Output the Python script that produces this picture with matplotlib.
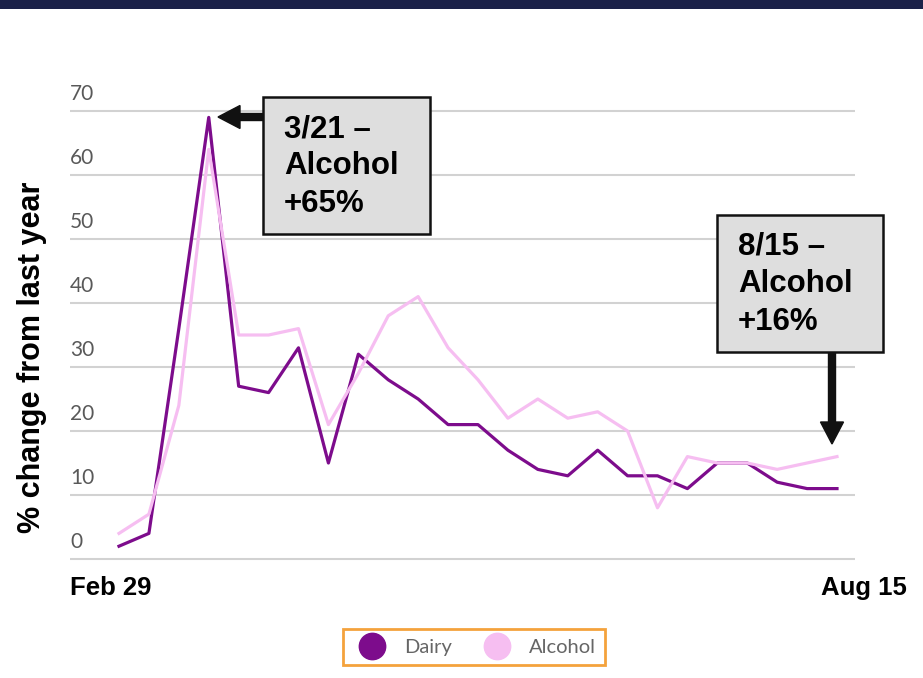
import matplotlib.pyplot as plt
from matplotlib.patches import Rectangle, FancyArrow
from matplotlib.lines import Line2D
from matplotlib.transforms import IdentityTransform

# Weekly data, Feb 29 -> Aug 15 (25 weeks)
weeks = list(range(25))
dairy = [2, 4, 36, 69, 27, 26, 33, 15, 32, 28, 25, 21, 21, 17, 14, 13, 17, 13, 13, 11, 15, 15, 12, 11, 11]
alcohol = [4, 7, 24, 64, 35, 35, 36, 21, 29, 38, 41, 33, 28, 22, 25, 22, 23, 20, 8, 16, 15, 15, 14, 15, 16]
y_ticks = [0, 10, 20, 30, 40, 50, 60, 70]
x_labels = ['Feb 29', 'Aug 15']
series_names = ['Dairy', 'Alcohol']
callouts = ['3/21 –\nAlcohol\n+65%', '8/15 –\nAlcohol\n+16%']

W, H = 923, 678
COR_DAIRY = '#7D0C8C'
COR_ALCOOL = '#F6BEF1'


def fx(x):
    return x / W


def fy(y):
    return 1 - y / H


fig = plt.figure(figsize=(W / 100, H / 100), dpi=100)
fig.patch.set_facecolor('white')

# Faixa azul escura no topo
fig.add_artist(Rectangle((0, fy(9)), 1, 9 / H, transform=fig.transFigure,
                         facecolor='#1B2148', edgecolor='none'))

# Eixo principal (0 -> y=559px, 70 -> y=111px)
ppu = (559 - 111) / 70.0
ax = fig.add_axes([fx(70), fy(559 + ppu), (855 - 70) / W, (559 - 111 + 2 * ppu) / H])
ax.set_xlim(-(119 - 70) / 29.92, 24 + (855 - 837) / 29.92)
ax.set_ylim(-1, 71)

ax.plot(weeks, dairy, color=COR_DAIRY, lw=2.3, zorder=3, clip_on=False)
ax.plot(weeks, alcohol, color=COR_ALCOOL, lw=2.3, zorder=4, clip_on=False)

ax.set_yticks(y_ticks)
ax.grid(axis='y', color='#D2D2D2', lw=1.5)
ax.set_axisbelow(True)
ax.tick_params(length=0, labelleft=False, labelbottom=False)
ax.set_xticks([])
for s in ax.spines.values():
    s.set_visible(False)

# Rótulos do eixo y acima das linhas de grade
for v in y_ticks:
    ax.annotate(str(v), xy=(0, v), xycoords=('axes fraction', 'data'),
                xytext=(0, 5), textcoords='offset points', ha='left', va='bottom',
                fontsize=15, color='#595959', family='Lato')

fig.text(fx(70), fy(588), x_labels[0], ha='left', va='center', fontsize=18.5,
         fontweight='bold', family='Liberation Sans')
fig.text(fx(907), fy(588), x_labels[1], ha='right', va='center', fontsize=18.5,
         fontweight='bold', family='Liberation Sans')
fig.text(fx(32), fy(357), '% change from last year', rotation=90, ha='center', va='center',
         fontsize=22, fontweight='bold', family='Liberation Sans')

# Caixas de destaque e setas (em pixels)
ident = IdentityTransform()


def caixa(x0, y0, x1, y1, texto):
    fig.add_artist(Rectangle((x0, H - y1), x1 - x0, y1 - y0, transform=ident,
                             facecolor='#DEDEDE', edgecolor='#111111', lw=1.8, zorder=5))
    fig.text(fx(x0 + 21), fy(y0 + 17), texto, ha='left', va='top', fontsize=22.5,
             fontweight='bold', family='Liberation Sans', linespacing=1.32, zorder=6)


caixa(263, 97, 430, 234, callouts[0])
caixa(717, 215, 883, 352, callouts[1])

fig.add_artist(FancyArrow(263, H - 117, -45, 0, width=7, head_width=23, head_length=22,
                          length_includes_head=True, color='#111111', transform=ident))
fig.add_artist(FancyArrow(832, H - 352, 0, -92, width=7, head_width=23, head_length=22,
                          length_includes_head=True, color='#111111', transform=ident))

# Legenda
handles = [Line2D([], [], marker='o', ls='none', ms=19, mfc=COR_DAIRY, mec=COR_DAIRY),
           Line2D([], [], marker='o', ls='none', ms=19, mfc=COR_ALCOOL, mec=COR_ALCOOL)]
leg = fig.legend(handles, series_names, loc='center', bbox_to_anchor=(fx(474), fy(647)),
                 ncol=2, frameon=True, fancybox=False, edgecolor='#F4A23C', framealpha=1,
                 prop=dict(family='Lato', size=14.5), labelcolor='#666666',
                 handletextpad=0.6, columnspacing=1.2, borderpad=0.45, borderaxespad=0)
leg.get_frame().set_linewidth(2)

fig.savefig('out.png', dpi=100)
